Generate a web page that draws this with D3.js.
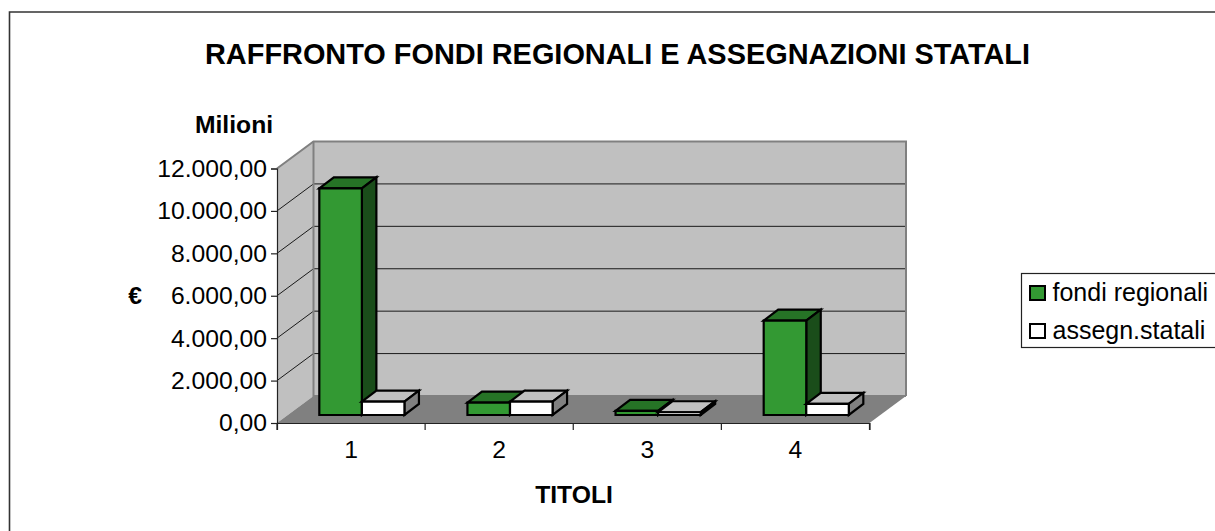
<!DOCTYPE html>
<html><head><meta charset="utf-8">
<script src="https://cdnjs.cloudflare.com/ajax/libs/d3/7.8.5/d3.min.js"></script>
<style>html,body{margin:0;padding:0;background:#fff;overflow:hidden}svg{display:block}text{font-family:"Liberation Sans",Arial,sans-serif;fill:#000}</style>
</head><body><svg id="c" width="1215" height="531"></svg>
<script>
const categories = ["1","2","3","4"];
const seriesNames = ["fondi regionali","assegn.statali"];
const fondiRegionali = [10690,580,190,4450];
const assegnStatali = [630,630,130,520];
const yTicks = [0,2000,4000,6000,8000,10000,12000];
const seriesStyles = [
  {front:"#339933",top:"#267326",side:"#1a4d1a"},
  {front:"#ffffff",top:"#c0c0c0",side:"#808080"}
];
const svg = d3.select("#c");
const locale = d3.formatLocale({decimal:",",thousands:".",grouping:[3],currency:["","€"]});
const fmt = locale.format(",.2f");
const x0=277,x1=869.5,yBase=423,yTop=168.5,DX=36.5,DY=27;
const x = d3.scaleBand().domain(categories).range([x0,x1]);
const sub = d3.scaleBand().domain(seriesNames).range([31.5,x.bandwidth()-31.5]);
const y = d3.scaleLinear().domain([0,12000]).range([yBase,yTop]);
const poly=(pts,fill,stroke,w)=>svg.append("polygon").attr("points",pts.map(p=>p.join(",")).join(" ")).attr("fill",fill).attr("stroke",stroke||"none").attr("stroke-width",w||0).attr("stroke-linejoin","miter");
// frame
svg.append("path").attr("d","M1215,12H9.5V531").attr("fill","none").attr("stroke","#333").attr("stroke-width",1.6);
// walls
poly([[x0+DX,yTop-DY],[x1+DX,yTop-DY],[x1+DX,yBase-DY],[x0+DX,yBase-DY]],"#c0c0c0");
poly([[x0,yTop],[x0+DX,yTop-DY],[x0+DX,yBase-DY],[x0,yBase]],"#c0c0c0");
poly([[x0,yBase],[x0+DX,yBase-DY],[x1+DX,yBase-DY],[x1,yBase]],"#808080");
// gridlines
yTicks.slice(1,-1).forEach(t=>{
  svg.append("path").attr("d",`M${x0},${y(t)}L${x0+DX},${y(t)-DY}H${x1+DX}`).attr("fill","none").attr("stroke","#1a1a1a").attr("stroke-width",1);
});
// wall borders
svg.append("path").attr("d",`M${x0},${yTop}L${x0+DX},${yTop-DY}H${x1+DX}V${yBase-DY}`).attr("fill","none").attr("stroke","#808080").attr("stroke-width",2);
svg.append("path").attr("d",`M${x0+DX},${yTop-DY}V${yBase-DY}H${x1+DX}`).attr("fill","none").attr("stroke","#808080").attr("stroke-width",2);
// bars
const bz=8/27, bdx=14.5, bdy=11;
const data=categories.map((c,i)=>[fondiRegionali[i],assegnStatali[i]]);
categories.forEach((c,i)=>{
  seriesNames.forEach((s,j)=>{
    const st=seriesStyles[j], v=data[i][j];
    const l=x(c)+sub(s)+DX*bz, r=l+sub.bandwidth();
    const b=yBase-DY*bz, t=y(v)-DY*bz;
    const sw=2.2;
    poly([[l,t],[l+bdx,t-bdy],[r+bdx,t-bdy],[r,t]],st.top,"#000",sw);
    poly([[r,t],[r+bdx,t-bdy],[r+bdx,b-bdy],[r,b]],st.side,"#000",sw);
    poly([[l,t],[r,t],[r,b],[l,b]],st.front,"#000",sw);
  });
});
// axes
const yAxis=d3.axisLeft(y).tickValues(yTicks).tickFormat(fmt).tickSize(6).tickPadding(4);
const gy=svg.append("g").attr("transform",`translate(${x0},0)`).call(yAxis);
gy.selectAll("text").style("font-size","24.7px").attr("dy","0.32em");
gy.selectAll("line,path").attr("stroke","#222").attr("stroke-width",1.2);
const xAxis=d3.axisBottom(x).tickSize(7).tickPadding(10);
const gx=svg.append("g").attr("transform",`translate(0,${yBase})`).call(xAxis);
gx.selectAll("text").style("font-size","24.7px");
gx.selectAll(".tick line").remove();
gx.selectAll("path").attr("stroke","#222").attr("stroke-width",1.2);
d3.range(categories.length+1).forEach(i=>{
  const px=x0+i*x.step();
  gx.append("line").attr("x1",px).attr("x2",px).attr("y1",0).attr("y2",7).attr("stroke","#222").attr("stroke-width",1.2);
});
// titles
const label=(txt,xx,yy,sz,bold)=>svg.append("text").attr("x",xx).attr("y",yy).attr("text-anchor","middle").attr("font-size",sz).attr("font-weight",bold?"bold":"normal").text(txt);
label("RAFFRONTO FONDI REGIONALI E ASSEGNAZIONI STATALI",617.5,64,28.9,true);
label("Milioni",234,133,24.7,true);
label("TITOLI",574,503,24.7,true);
label("€",135,304,24.7,true);
// legend
svg.append("rect").attr("x",1021.5).attr("y",273.5).attr("width",200).attr("height",74).attr("fill","#fff").attr("stroke","#222").attr("stroke-width",1.2);
seriesNames.forEach((s,j)=>{
  const cy=[293,331][j];
  svg.append("rect").attr("x",1030).attr("y",cy-7).attr("width",15).attr("height",14).attr("fill",seriesStyles[j].front).attr("stroke","#000").attr("stroke-width",2);
  svg.append("text").attr("x",1052.5).attr("y",cy+8).attr("font-size",25).text(s);
});
</script></body></html>
